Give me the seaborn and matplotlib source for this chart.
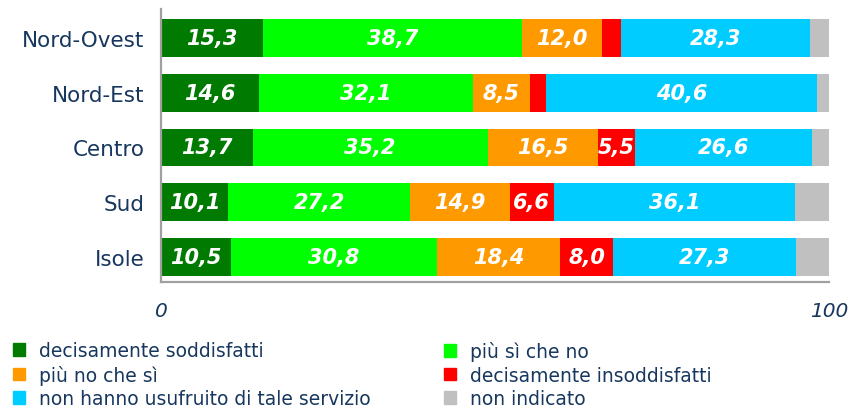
import matplotlib
matplotlib.use("Agg")
import matplotlib.pyplot as plt
import matplotlib.patches as mpatches
import numpy as np
import pandas as pd
import seaborn as sns

regioni = ["Nord-Ovest", "Nord-Est", "Centro", "Sud", "Isole"]

categorie = [
    "decisamente soddisfatti",
    "più sì che no",
    "più no che sì",
    "decisamente insoddisfatti",
    "non hanno usufruito di tale servizio",
    "non indicato",
]
colori = ["#007A00", "#00FF00", "#FF9900", "#FF0000", "#00CCFF", "#C0C0C0"]

dec_soddisfatti = [15.3, 14.6, 13.7, 10.1, 10.5]
piu_si = [38.7, 32.1, 35.2, 27.2, 30.8]
piu_no = [12.0, 8.5, 16.5, 14.9, 18.4]
dec_insoddisfatti = [2.8, 2.4, 5.5, 6.6, 8.0]
non_usufruito = [28.3, 40.6, 26.6, 36.1, 27.3]
non_indicato = [2.9, 1.8, 2.5, 5.1, 5.0]

TEXT_COLOR = "#17375E"

df = pd.DataFrame(
    dict(zip(categorie, [dec_soddisfatti, piu_si, piu_no, dec_insoddisfatti,
                         non_usufruito, non_indicato])),
    index=regioni,
)
cum = df.cumsum(axis=1)

sns.set_theme(style="white")
plt.rcParams["font.family"] = ["DejaVu Sans"]

fig = plt.figure(figsize=(8.5, 4.1), dpi=100)
ax = fig.add_axes([0.1894, 0.3098, 0.7859, 0.6658])

# barre impilate: si disegnano i cumulati dal più lungo al più corto
for cat, col in reversed(list(zip(categorie, colori))):
    sns.barplot(x=cum[cat].values, y=regioni, orient="h", color=col,
                width=0.69, saturation=1, linewidth=0, ax=ax)

# etichette dei valori (solo segmenti abbastanza larghi)
for i, reg in enumerate(regioni):
    for cat in categorie[:-1]:
        v = df.loc[reg, cat]
        if v < 5:
            continue
        xc = cum.loc[reg, cat] - v / 2
        ax.text(xc, i, f"{v:.1f}".replace(".", ","), ha="center", va="center",
                color="white", fontsize=15, fontweight="bold", fontstyle="italic")

ax.set_xlim(0, 100)
ax.set_ylim(4.46, -0.53)
ax.set_xticks([0, 100])
ax.set_xticklabels(["0", "100"], fontstyle="italic", fontsize=14.5, color=TEXT_COLOR)
ax.tick_params(axis="x", length=0, pad=14)
ax.tick_params(axis="y", length=0, pad=12, labelsize=15.5, labelcolor=TEXT_COLOR)
ax.set_xlabel("")
ax.set_ylabel("")

for s in ["top", "right"]:
    ax.spines[s].set_visible(False)
for s in ["left", "bottom"]:
    ax.spines[s].set_color("#A0A0A0")
    ax.spines[s].set_linewidth(1.6)

# legenda su due colonne
handles = [mpatches.Patch(color=c, label=l) for l, c in zip(categorie, colori)]
leg_kw = dict(frameon=False, fontsize=13.5, handlelength=0.65, handleheight=0.65,
              handletextpad=0.75, labelspacing=0.25, labelcolor=TEXT_COLOR,
              borderaxespad=0, borderpad=0)
leg1 = fig.legend(handles=handles[0::2], loc="upper left",
                  bbox_to_anchor=(0.015, 0.166), **leg_kw)
leg2 = fig.legend(handles=handles[1::2], loc="upper left",
                  bbox_to_anchor=(0.522, 0.166), **leg_kw)

fig.savefig("out.png", dpi=100)
